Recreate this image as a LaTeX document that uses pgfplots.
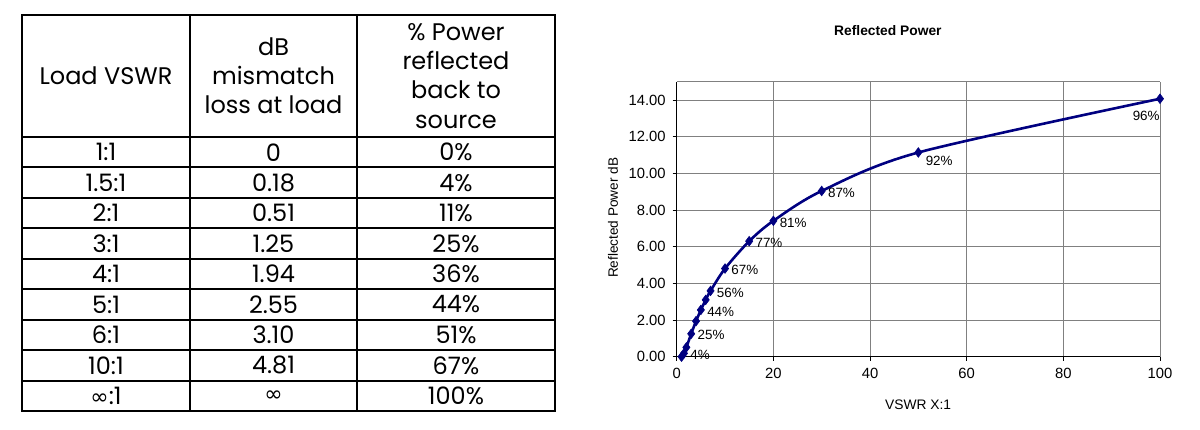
\documentclass[border=0pt]{standalone}
\usepackage{fontspec}
\setmainfont{Liberation Sans}
\newfontfamily\tabfont{Poppins}
\newfontfamily\symfont{DejaVu Sans}
\usepackage{pgfplots}
\pgfplotsset{compat=1.18}
\definecolor{navy}{HTML}{000080}
\definecolor{gridgray}{HTML}{808080}
\begin{document}
\begin{tikzpicture}
\useasboundingbox (0,0) rectangle (600pt,214.5pt);
% ---------- table (pixel coordinates, origin top-left) ----------
\begin{scope}[shift={(0,214.5pt)}, x=0.5pt, y=-0.5pt]
  \draw[line width=1pt] (22,15) rectangle (555,411);
  \draw[line width=1pt] (190,15) -- (190,411);
  \draw[line width=1pt] (357,15) -- (357,411);
  \foreach \k in {0,...,8} {
    \draw[line width=1pt] (22,{137+30.44*\k}) -- (555,{137+30.44*\k});
  }
  \tikzset{tc/.style={font=\tabfont\fontsize{12}{14.6}\selectfont, align=center, inner sep=0pt, anchor=center}}
  \node[tc] at (106,76) {Load VSWR};
  \node[tc] at (273.5,76) {dB\\mismatch\\loss at load};
  \node[tc] at (456,76) {\% Power\\reflected\\back to\\source};
  \foreach [count=\i from 0] \a/\b/\c in {1:1/0/0\%, 1.5:1/0.18/4\%, 2:1/0.51/11\%, 3:1/1.25/25\%, 4:1/1.94/36\%, 5:1/2.55/44\%, 6:1/3.10/51\%, 10:1/4.81/67\%, {\symfont\fontsize{11}{13}\selectfont ∞}:1/{\symfont\fontsize{11}{13}\selectfont ∞}/100\%} {
    \node[tc] at (106,{137+15.22+30.44*\i}) {\a};
    \node[tc] at (273.5,{137+15.22+30.44*\i}) {\b};
    \node[tc] at (456,{137+15.22+30.44*\i}) {\c};
  }
\end{scope}
% ---------- chart ----------
\begin{axis}[
  at={(338.35pt,36.15pt)}, anchor=south west,
  scale only axis, width=241.65pt, height=137.5pt,
  xmin=0, xmax=100, ymin=0, ymax=15,
  xtick={0,20,...,100}, ytick={0,2,...,14},
  extra y ticks={15}, extra y tick labels={},
  extra y tick style={major tick length=0pt, grid=major},
  axis x line*=bottom, axis y line*=left,
  axis line style={black, line width=0.6pt},
  grid=major, grid style={gridgray, line width=0.5pt},
  tick align=outside, major tick length=2pt,
  tick style={black, line width=0.5pt},
  /pgf/number format/assume math mode=true,
  yticklabel style={/pgf/number format/.cd, fixed, fixed zerofill, precision=2},
  ticklabel style={font=\fontsize{7.4}{8.4}\selectfont},
  xlabel={VSWR X:1}, ylabel={Reflected Power dB},
  xlabel style={font=\fontsize{6.9}{7.9}\selectfont, at={(axis description cs:0.4995,-0.1756)}, anchor=center},
  ylabel style={font=\fontsize{6.8}{7.8}\selectfont, at={(axis description cs:-0.132,0.505)}, anchor=center},
  title={Reflected Power},
  title style={font=\bfseries\fontsize{6.9}{7.9}\selectfont, at={(axis description cs:0.437,1.144)}, anchor=center},
  clip=false,
]
\addplot[navy, line width=1.3pt, smooth, mark=diamond*, mark size=2.4pt, mark options={fill=navy, draw=navy, line width=0.3pt}]
  coordinates {(1,0) (1.5,0.18) (2,0.51) (3,1.25) (4,1.94) (5,2.55) (6,3.10) (7,3.59) (10,4.81) (15,6.30) (20,7.41) (30,9.04) (50,11.14) (100,14.07)};
\addplot[draw=none, nodes near coords, point meta=explicit symbolic,
  nodes near coords style={font=\fontsize{6.7}{7.7}\selectfont, black, anchor=west, inner sep=0pt, xshift=3pt, yshift=-0.8pt}]
  coordinates {(1.5,0.18) [4\%] (3,1.25) [25\%] (5,2.55) [44\%] (7,3.59) [56\%] (10,4.81) [67\%] (15,6.30) [77\%] (20,7.41) [81\%] (30,9.04) [87\%]};
\addplot[draw=none, nodes near coords, point meta=explicit symbolic,
  nodes near coords style={font=\fontsize{6.7}{7.7}\selectfont, black, anchor=west, inner sep=0pt, xshift=3.5pt, yshift=-4pt}]
  coordinates {(50,11.14) [92\%]};
\addplot[draw=none, nodes near coords, point meta=explicit symbolic,
  nodes near coords style={font=\fontsize{6.7}{7.7}\selectfont, black, anchor=north east, inner sep=0pt, yshift=-6pt}]
  coordinates {(100,14.07) [96\%]};
\end{axis}
\end{tikzpicture}
\end{document}
